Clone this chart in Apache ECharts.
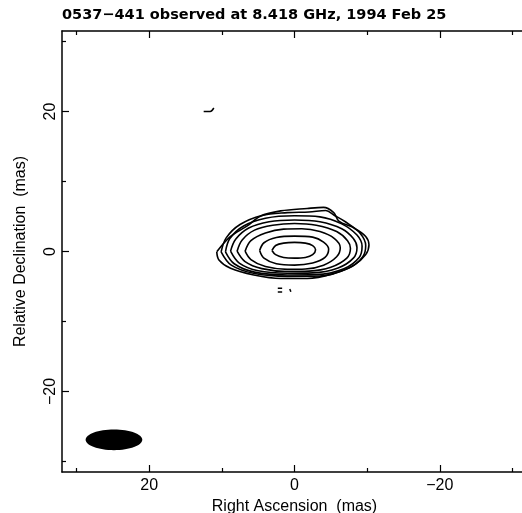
<!DOCTYPE html>
<html>
<head>
<meta charset="utf-8">
<script src="https://cdn.jsdelivr.net/npm/echarts@6/dist/echarts.min.js"></script>
<style>html,body{margin:0;padding:0;background:#fff}#c{width:522px;height:513px}</style>
</head>
<body>
<div id="c"></div>
<script>
// ---- data (mas) ----
const titleText = '0537\u2212441 observed at 8.418 GHz, 1994 Feb 25';
const xRange = [-32, 32];
const yRange = [-31.5, 31.5];
const xMajorTicks = [-20, 0, 20];
const xMinorTicks = [-30, -10, 10, 30];
const yMajorTicks = [-20, 0, 20];
const yMinorTicks = [-30, -10, 10, 30];

// contour levels, outermost first: [RA offset, Dec offset]
const contour1 = [[10.7,-0.05],[8.8,2.15],[6.5,3.65],[4.7,5.05],[1.9,5.8],[-1.75,6.15],[-4.0,6.3],[-5.4,5.55],[-6.1,4.35],[-8.2,3.35],[-9.8,2.15],[-10.25,0.95],[-9.8,-0.45],[-8.2,-1.95],[-5.4,-3.15],[-1.75,-3.85],[1.9,-3.85],[5.6,-3.35],[8.8,-2.4],[10.4,-1.2],[10.7,-0.05]];
const contour2 = [[10.1,-0.05],[9.4,1.95],[7.5,3.85],[4.5,5.15],[1.0,5.55],[-2.0,5.65],[-4.3,5.85],[-5.5,5.15],[-7.0,4.25],[-9.0,2.65],[-9.8,0.85],[-9.4,-0.75],[-7.5,-2.35],[-3.5,-3.5],[1.0,-3.55],[5.5,-3.15],[8.7,-1.95],[10.1,-0.05]];
const contour3 = [[9.5,-0.05],[8.9,1.85],[7.0,3.65],[4.0,4.75],[0,5.1],[-3.5,4.95],[-6.5,3.95],[-8.6,2.35],[-9.3,0.75],[-8.9,-0.85],[-6.8,-2.45],[-3.0,-3.3],[1.0,-3.35],[5.5,-2.95],[8.3,-1.75],[9.5,-0.05]];
const contour4 = [[8.8,0.05],[8.1,1.75],[6.3,3.35],[3.5,4.25],[0,4.5],[-3.5,4.25],[-6.5,3.25],[-8.1,1.85],[-8.6,0.55],[-8.1,-0.95],[-6.0,-2.35],[-2.5,-3.05],[1.0,-3.1],[5.0,-2.75],[7.6,-1.65],[8.8,0.05]];
const contour5 = [[7.9,0.05],[7.2,1.65],[5.5,3.05],[3.0,3.75],[0,4.0],[-3.0,3.75],[-5.8,2.85],[-7.3,1.55],[-7.7,0.45],[-7.2,-0.95],[-5.0,-2.25],[-2.0,-2.8],[1.0,-2.85],[4.5,-2.45],[6.8,-1.45],[7.9,0.05]];
const contour6 = [[6.8,0.05],[6.0,1.55],[4.0,2.65],[1.5,3.2],[-1.0,3.25],[-3.5,2.85],[-5.5,1.85],[-6.3,0.55],[-5.8,-0.75],[-4.0,-1.95],[-1.5,-2.5],[1.0,-2.55],[4.0,-2.15],[6.0,-1.15],[6.8,0.05]];
const contour7 = [[4.8,0.15],[4.2,1.25],[2.5,2.0],[0,2.2],[-2.5,2.05],[-4.0,1.35],[-4.7,0.35],[-4.2,-0.85],[-2.5,-1.65],[0,-1.95],[2.5,-1.75],[4.2,-0.95],[4.8,0.15]];
const contour8 = [[3.1,0.15],[2.6,0.85],[1.5,1.2],[0,1.3],[-1.5,1.2],[-2.5,0.85],[-2.9,0.25],[-2.5,-0.45],[-1.5,-0.85],[0,-0.95],[1.5,-0.85],[2.6,-0.45],[3.1,0.15]];
const contours = [contour1, contour2, contour3, contour4, contour5, contour6, contour7, contour8];

// small isolated contour fragments
const fragment1 = [[12.5,20.0],[11.6,20.0],[11.1,20.5]];
const fragment2 = [[2.3,-5.25],[1.7,-5.25]];
const fragment3 = [[2.3,-5.8],[1.7,-5.8]];
const fragment4 = [[0.65,-5.35],[0.5,-5.75]];
const fragments = [fragment1, fragment2, fragment3, fragment4];

// restoring beam: centre and full axes (mas)
const beamCenter = [24.85, -26.9];
const beamAxes = [7.8, 2.96];

// ---- chart ----
const chart = echarts.init(document.getElementById('c'), null, {renderer: 'canvas'});
const black = '#000';
const fmt = v => (v < 0 ? '\u2212' + Math.abs(v) : String(v));
const tickFont = {fontFamily: 'Liberation Sans', fontSize: 16, color: black};
const nameFont = {fontFamily: 'Liberation Sans', fontSize: 16, color: black};
const gridRect = {left: 62, top: 31, width: 465, height: 441, containLabel: false, outerBoundsMode: 'none'};

function makeAxis(dim, pos, gridIndex, ticks, len, showLine, labels) {
  return {
    type: 'value', gridIndex: gridIndex, position: pos,
    min: dim === 'x' ? xRange[0] : yRange[0], max: dim === 'x' ? xRange[1] : yRange[1],
    inverse: dim === 'x', splitLine: {show: false},
    axisLine: {show: showLine, onZero: false, lineStyle: {color: black, width: 1.5}},
    axisTick: {show: true, inside: true, length: len, customValues: ticks, lineStyle: {color: black, width: 1.2}},
    axisLabel: labels ? Object.assign({show: true, customValues: labels, formatter: fmt, margin: 6}, tickFont) : {show: false}
  };
}

// grid 0: frame, major ticks, labels; grid 1 (same rect): minor ticks
const xAxes = [
  makeAxis('x', 'bottom', 0, xMajorTicks, 7, true, xMajorTicks),
  makeAxis('x', 'top', 0, xMajorTicks, 7, true, null),
  makeAxis('x', 'bottom', 1, xMinorTicks, 4, false, null),
  makeAxis('x', 'top', 1, xMinorTicks, 4, false, null)
];
xAxes[0].name = 'Right Ascension  (mas)';
xAxes[0].nameLocation = 'middle';
xAxes[0].nameGap = 19;
xAxes[0].nameTextStyle = nameFont;

const yAxes = [
  makeAxis('y', 'left', 0, yMajorTicks, 7, true, yMajorTicks),
  makeAxis('y', 'left', 1, yMinorTicks, 4, false, null)
];
yAxes[0].axisLabel.rotate = 90;
yAxes[0].axisLabel.margin = 3;
yAxes[0].name = 'Relative Declination  (mas)';
yAxes[0].nameLocation = 'middle';
yAxes[0].nameGap = 33;
yAxes[0].nameTextStyle = nameFont;

const series = [];
contours.forEach((c, i) => series.push({
  type: 'line', name: 'level' + (i + 1), data: c, xAxisIndex: 0, yAxisIndex: 0,
  smooth: 0.35, symbol: 'none', silent: true, animation: false,
  lineStyle: {color: black, width: 1.6}
}));
fragments.forEach((f, i) => series.push({
  type: 'line', name: 'frag' + (i + 1), data: f, xAxisIndex: 0, yAxisIndex: 0,
  smooth: 0.3, symbol: 'none', silent: true, animation: false,
  lineStyle: {color: black, width: 1.5}
}));
series.push({
  type: 'custom', name: 'beam', xAxisIndex: 0, yAxisIndex: 0, silent: true, animation: false,
  data: [[beamCenter[0], beamCenter[1], beamAxes[0], beamAxes[1]]],
  renderItem: function (params, api) {
    const c = api.coord([api.value(0), api.value(1)]);
    const s = api.size([api.value(2), api.value(3)]);
    return {type: 'ellipse', shape: {cx: c[0], cy: c[1], rx: Math.abs(s[0]) / 2, ry: Math.abs(s[1]) / 2}, style: {fill: black}};
  }
});

chart.setOption({
  animation: false,
  backgroundColor: '#fff',
  title: {text: titleText, left: 57, top: 3, textStyle: {fontFamily: 'DejaVu Sans', fontSize: 14.5, fontWeight: 'bold', color: black}},
  grid: [Object.assign({}, gridRect), Object.assign({}, gridRect)],
  xAxis: xAxes,
  yAxis: yAxes,
  series: series
});
</script>
</body>
</html>
